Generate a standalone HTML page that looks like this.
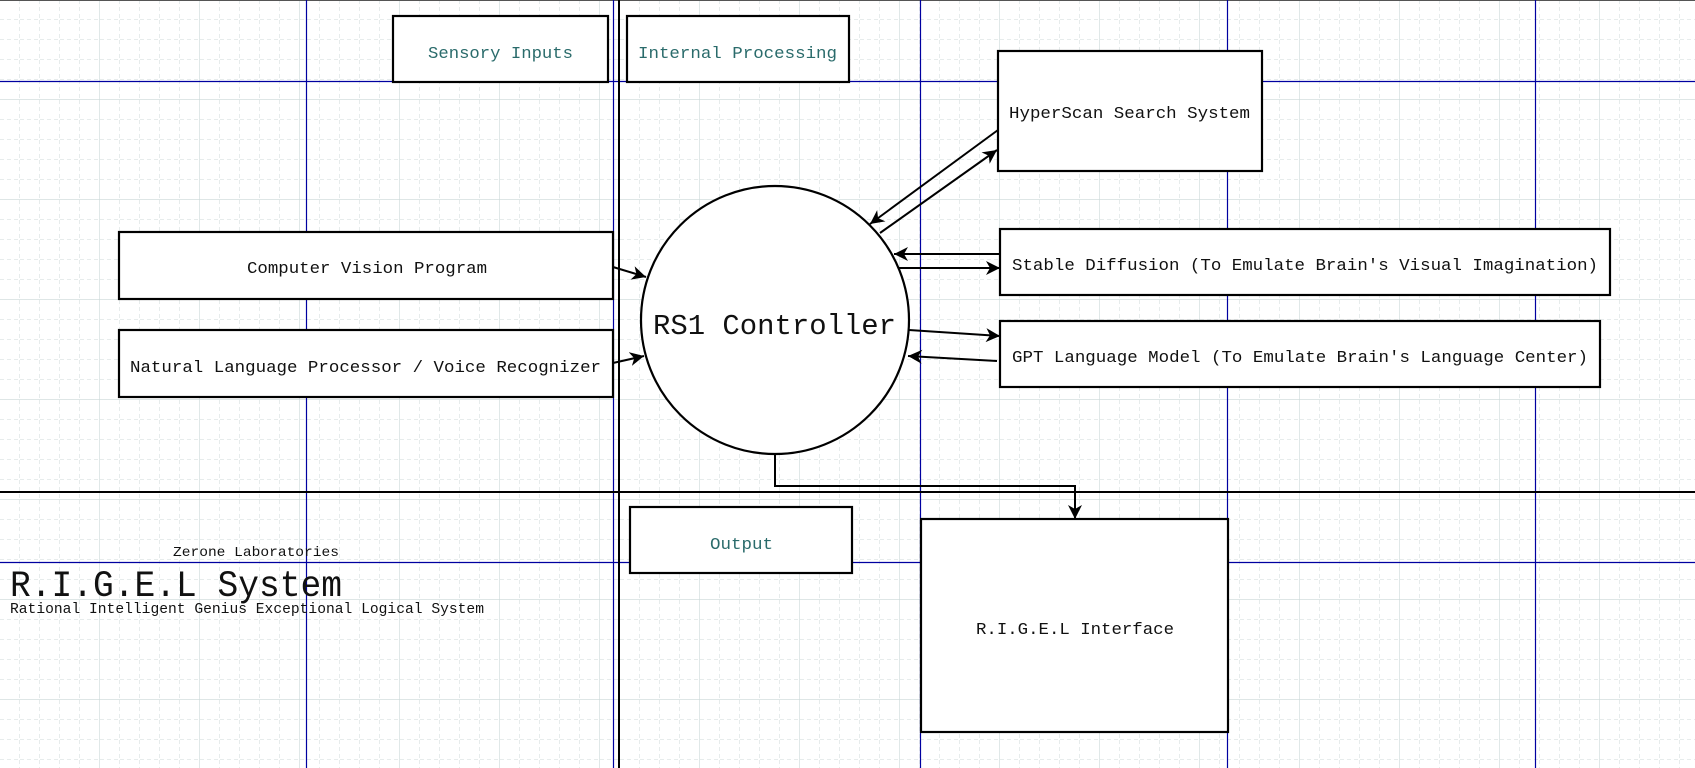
<!DOCTYPE html>
<html><head><meta charset="utf-8"><style>
html,body{margin:0;padding:0;background:#fff;}
svg{display:block;}
text{font-family:"Liberation Mono","DejaVu Sans Mono",monospace;}
</style></head><body>
<svg width="1695" height="768" viewBox="0 0 1695 768" xmlns="http://www.w3.org/2000/svg">
<defs>
<pattern id="minor" width="20" height="20" patternUnits="userSpaceOnUse">
<path d="M20 0 V20 M0 20 H20" stroke="#cfd9d9" stroke-width="1" stroke-dasharray="4 3" fill="none"/>
</pattern>
<pattern id="major" width="100" height="100" patternUnits="userSpaceOnUse">
<path d="M100 0 V100 M0 100 H100" stroke="#cbd8d8" stroke-width="1.2" fill="none"/>
</pattern>
<marker id="ah" markerWidth="16" markerHeight="16" refX="14" refY="7" orient="auto" markerUnits="userSpaceOnUse">
<path d="M0 0 L14 7 L0 14 L4 7 Z" fill="#000"/>
</marker>
</defs>
<rect width="1695" height="768" fill="#fff"/>
<rect width="1695" height="768" fill="url(#minor)"/>
<rect width="1695" height="768" fill="url(#major)"/>
<line x1="0" y1="0.5" x2="1695" y2="0.5" stroke="#555" stroke-width="1"/>
<g stroke="#0000a0" stroke-width="1.2">
<line x1="306.5" y1="0" x2="306.5" y2="768"/>
<line x1="613.5" y1="0" x2="613.5" y2="768"/>
<line x1="920.5" y1="0" x2="920.5" y2="768"/>
<line x1="1227.5" y1="0" x2="1227.5" y2="768"/>
<line x1="1535.5" y1="0" x2="1535.5" y2="768"/>
<line x1="0" y1="81.5" x2="1695" y2="81.5"/>
<line x1="0" y1="562.5" x2="1695" y2="562.5"/>
</g>
<line x1="619" y1="0" x2="619" y2="768" stroke="#000" stroke-width="2"/>
<line x1="0" y1="492" x2="1695" y2="492" stroke="#000" stroke-width="2"/>

<g fill="#fff" stroke="#000" stroke-width="2.2">
<rect x="393" y="16" width="215" height="66"/>
<rect x="627" y="16" width="222" height="66"/>
<rect x="998" y="51" width="264" height="120"/>
<rect x="119" y="232" width="494" height="67"/>
<rect x="119" y="330" width="494" height="67"/>
<rect x="1000" y="229" width="610" height="66"/>
<rect x="1000" y="321" width="600" height="66"/>
<rect x="630" y="507" width="222" height="66"/>
<rect x="921" y="519" width="307" height="213"/>
<circle cx="775" cy="320" r="134"/>
</g>

<g stroke="#000" stroke-width="2" fill="none" marker-end="url(#ah)">
<line x1="613" y1="267" x2="646" y2="277"/>
<line x1="613" y1="363" x2="644" y2="356"/>
<line x1="998" y1="130" x2="870" y2="224"/>
<line x1="880" y1="233" x2="997" y2="150"/>
<line x1="1000" y1="254" x2="894" y2="254"/>
<line x1="898" y1="268" x2="1000" y2="268"/>
<line x1="909" y1="330" x2="1000" y2="336"/>
<line x1="997" y1="361" x2="908" y2="356"/>
<polyline points="775,455 775,486 1075,486 1075,519"/>
</g>

<g fill="#2a6b6b" font-size="17">
<text x="428" y="58" textLength="145" lengthAdjust="spacingAndGlyphs">Sensory Inputs</text>
<text x="638" y="58" textLength="199" lengthAdjust="spacingAndGlyphs">Internal Processing</text>
<text x="710" y="549" textLength="63" lengthAdjust="spacingAndGlyphs">Output</text>
</g>
<g fill="#111" font-size="17">
<text x="1009" y="118" textLength="241" lengthAdjust="spacingAndGlyphs">HyperScan Search System</text>
<text x="247" y="273" textLength="240" lengthAdjust="spacingAndGlyphs">Computer Vision Program</text>
<text x="130" y="372" textLength="471" lengthAdjust="spacingAndGlyphs">Natural Language Processor / Voice Recognizer</text>
<text x="1012" y="270" textLength="586" lengthAdjust="spacingAndGlyphs">Stable Diffusion (To Emulate Brain's Visual Imagination)</text>
<text x="1012" y="362" textLength="576" lengthAdjust="spacingAndGlyphs">GPT Language Model (To Emulate Brain's Language Center)</text>
<text x="976" y="634" textLength="198" lengthAdjust="spacingAndGlyphs">R.I.G.E.L Interface</text>
<text x="653" y="334" font-size="29" textLength="243" lengthAdjust="spacingAndGlyphs">RS1 Controller</text>
<text x="173" y="556" font-size="14" textLength="166" lengthAdjust="spacingAndGlyphs">Zerone Laboratories</text>
<text x="10" y="596" font-size="37" textLength="332" lengthAdjust="spacingAndGlyphs">R.I.G.E.L System</text>
<text x="10" y="613" font-size="15" textLength="474" lengthAdjust="spacingAndGlyphs">Rational Intelligent Genius Exceptional Logical System</text>
</g>
</svg>
</body></html>
